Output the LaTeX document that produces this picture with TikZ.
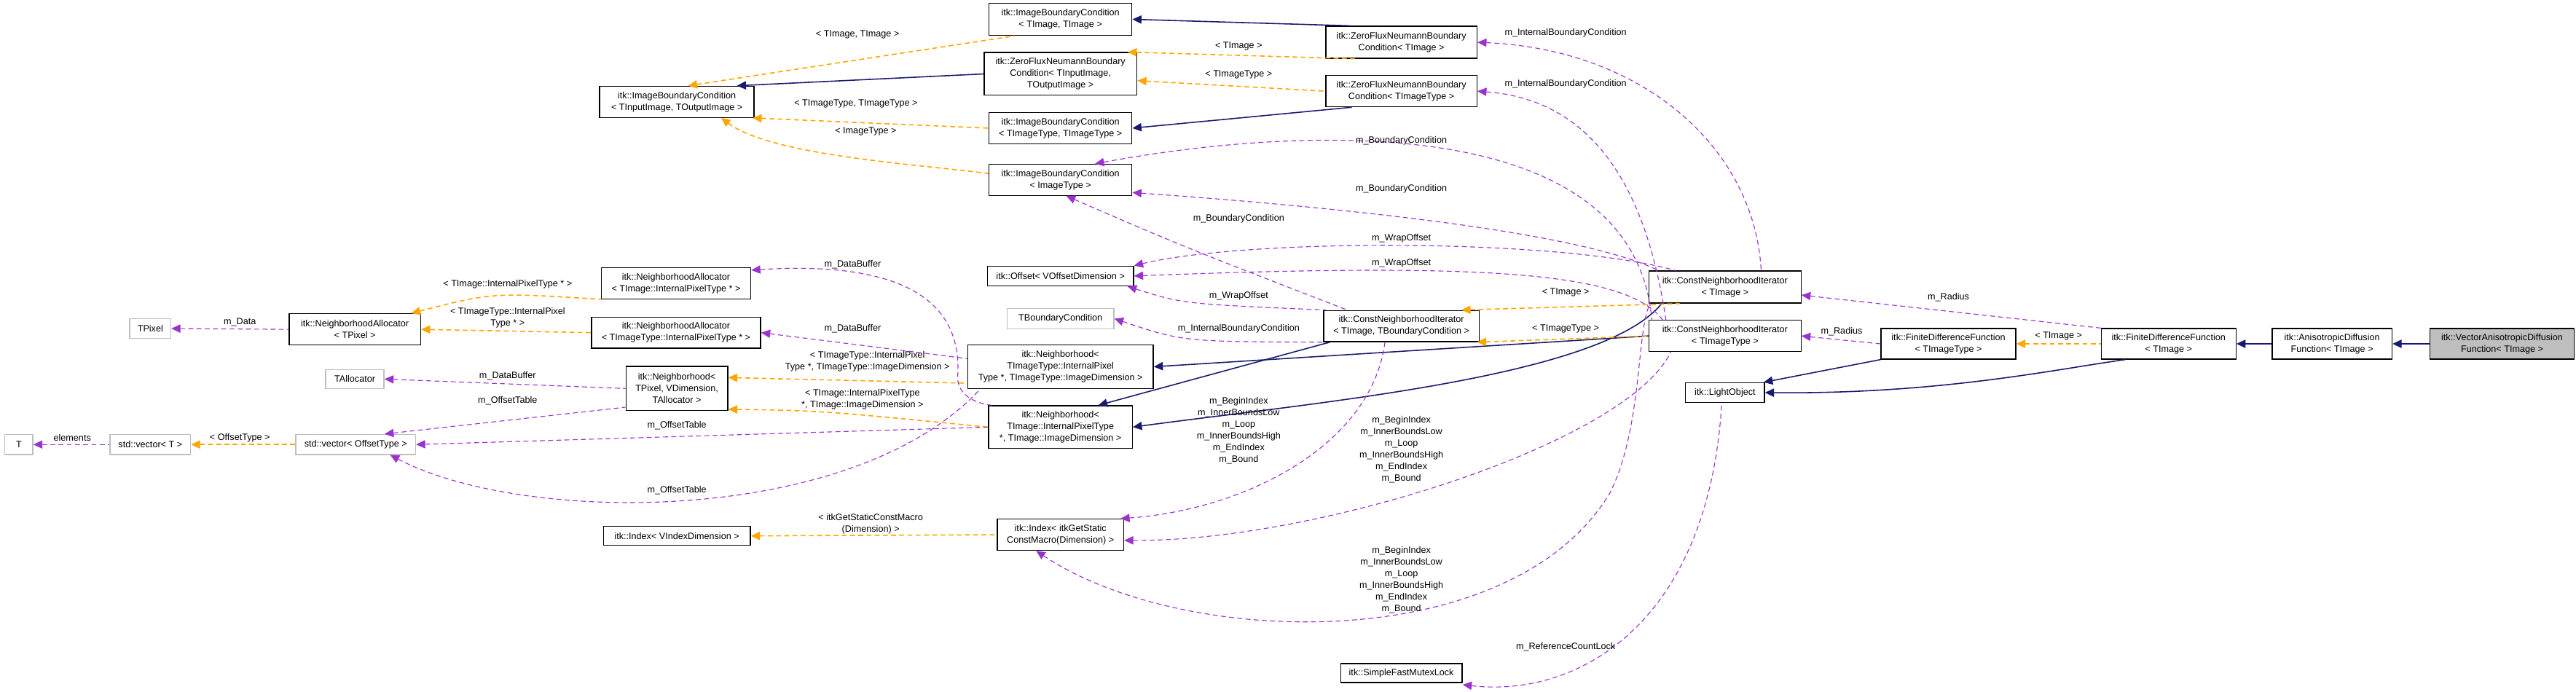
\documentclass[tikz,border=0pt]{standalone}
\usepackage{fontspec}
\setmainfont{Liberation Sans}
\usetikzlibrary{arrows.meta}
\definecolor{inhc}{HTML}{191970}
\definecolor{tplc}{HTML}{FFA500}
\definecolor{usec}{HTML}{9A32CD}
\definecolor{grey}{HTML}{BFBFBF}
\begin{document}
\begin{tikzpicture}[x=1pt,y=-1pt,
  font=\fontsize{5.6}{7.1}\selectfont,
  box/.style={draw=black,line width=0.6pt,fill=white,align=center,inner sep=1pt},
  ubox/.style={box,draw=grey},
  tip/.style={{Triangle[length=5.5pt,width=5pt]}-},
  inh/.style={tip,draw=inhc,line width=0.7pt},
  tpl/.style={tip,draw=tplc,line width=0.7pt,dash pattern=on 3pt off 2pt},
  use/.style={tip,draw=usec,line width=0.5pt,dash pattern=on 3pt off 2pt},
  lbl/.style={inner sep=0pt,align=center,fill=none}]
\useasboundingbox (0,0) rectangle (1568,421.26);
% nodes
\node[box,minimum width=94,minimum height=19] (IBCio) at (412,62) {itk::ImageBoundaryCondition\\< TInputImage, TOutputImage >};
\node[box,minimum width=87,minimum height=19.5] (IBCtt) at (645.5,11.75) {itk::ImageBoundaryCondition\\< TImage, TImage >};
\node[box,minimum width=93,minimum height=26] (ZFNio) at (645.5,45) {itk::ZeroFluxNeumannBoundary\\Condition< TInputImage,\\ TOutputImage >};
\node[box,minimum width=87,minimum height=19] (IBCtyty) at (645.5,78) {itk::ImageBoundaryCondition\\< TImageType, TImageType >};
\node[box,minimum width=87,minimum height=19] (IBCit) at (645.5,109.5) {itk::ImageBoundaryCondition\\< ImageType >};
\node[box,minimum width=89,minimum height=12] (Offset) at (645.5,168) {itk::Offset< VOffsetDimension >};
\node[ubox,minimum width=65,minimum height=12.3] (TBC) at (645.5,194) {TBoundaryCondition};
\node[box,minimum width=92,minimum height=19.5] (ZFNti) at (853,25.75) {itk::ZeroFluxNeumannBoundary\\Condition< TImage >};
\node[box,minimum width=92,minimum height=19] (ZFNtt) at (853,55.5) {itk::ZeroFluxNeumannBoundary\\Condition< TImageType >};
\node[box,minimum width=94.5,minimum height=19] (CNItbc) at (853,198.5) {itk::ConstNeighborhoodIterator\\< TImage, TBoundaryCondition >};
\node[box,minimum width=92.5,minimum height=19.5] (CNIti) at (1050,174.75) {itk::ConstNeighborhoodIterator\\< TImage >};
\node[box,minimum width=92.5,minimum height=19] (CNItt) at (1050,204.5) {itk::ConstNeighborhoodIterator\\< TImageType >};
\node[box,minimum width=113,minimum height=26.5] (NTIT) at (645.5,223.25) {itk::Neighborhood<\\ TImageType::InternalPixel\\Type *, TImageType::ImageDimension >};
\node[box,minimum width=87.5,minimum height=26] (NTI) at (645.5,260) {itk::Neighborhood<\\ TImage::InternalPixelType\\ *, TImage::ImageDimension >};
\node[box,minimum width=77,minimum height=19] (IndexG) at (645.5,325.5) {itk::Index< itkGetStatic\\ConstMacro(Dimension) >};
\node[box,minimum width=74,minimum height=11.5] (SFML) at (853,409.75) {itk::SimpleFastMutexLock};
\node[box,minimum width=48,minimum height=12] (LO) at (1050,239) {itk::LightObject};
\node[box,minimum width=82,minimum height=18.6] (FDFtt) at (1186,209.3) {itk::FiniteDifferenceFunction\\< TImageType >};
\node[box,minimum width=82,minimum height=18.6] (FDFti) at (1320,209.3) {itk::FiniteDifferenceFunction\\< TImage >};
\node[box,minimum width=73,minimum height=18.6] (ADF) at (1419.5,209.3) {itk::AnisotropicDiffusion\\Function< TImage >};
\node[box,fill=grey,minimum width=88,minimum height=18.6] (VADF) at (1523,209.3) {itk::VectorAnisotropicDiffusion\\Function< TImage >};
\node[box,minimum width=91,minimum height=19] (NAti) at (411.5,172.5) {itk::NeighborhoodAllocator\\< TImage::InternalPixelType * >};
\node[box,minimum width=80,minimum height=19] (NAtp) at (216,200.5) {itk::NeighborhoodAllocator\\< TPixel >};
\node[box,minimum width=103,minimum height=19] (NAtit) at (411.5,202.5) {itk::NeighborhoodAllocator\\< TImageType::InternalPixelType * >};
\node[ubox,minimum width=25,minimum height=12] (TPixel) at (91.5,200) {TPixel};
\node[ubox,minimum width=35.5,minimum height=11.5] (TAlloc) at (216,230.75) {TAllocator};
\node[box,minimum width=62,minimum height=27] (NTP) at (412,236.5) {itk::Neighborhood<\\ TPixel, VDimension,\\ TAllocator >};
\node[ubox,minimum width=17,minimum height=12.2] (T) at (11.5,270.6) {T};
\node[ubox,minimum width=49,minimum height=12.2] (VecT) at (91.5,270.6) {std::vector< T >};
\node[ubox,minimum width=73,minimum height=12.2] (VecO) at (216.5,270.6) {std::vector< OffsetType >};
\node[box,minimum width=89.5,minimum height=11.5] (IndexV) at (412,326.25) {itk::Index< VIndexDimension >};
% inheritance
\draw[inh] (IBCtt.east) -- (ZFNti.162);
\draw[inh] (IBCio.15) -- (ZFNio.west);
\draw[inh] (IBCtyty.east) -- (ZFNtt.198);
\draw[inh] (NTIT.east) -- (CNItt.west);
\draw[inh] (NTI.30) -- ([xshift=4pt]CNItbc.south west);
\draw[inh] (NTI.east) .. controls (800,245) and (975,230) .. ([xshift=8pt]CNIti.south west);
\draw[inh] (LO.15) -- (FDFtt.south west);
\draw[inh] (LO.east) .. controls (1180,240) and (1250,225) .. (FDFti.200);
\draw[inh] (FDFti.east) -- (ADF.west);
\draw[inh] (ADF.east) -- (VADF.west);
% template
\draw[tpl] (IBCio.55) -- (IBCtt.200);
\node[lbl] (t1) at (522,21) {< TImage, TImage >};
\draw[tpl] (IBCio.-12) -- (IBCtyty.west);
\node[lbl] (t2) at (521,63) {< TImageType, TImageType >};
\draw[tpl] ([xshift=27pt]IBCio.south) .. controls (470,95) and (560,100) .. (IBCit.175);
\node[lbl] (t3) at (527,80) {< ImageType >};
\draw[tpl] (ZFNio.18) -- (ZFNti.-160);
\node[lbl] (t4) at (754,28) {< TImage >};
\draw[tpl] (ZFNio.-5) -- (ZFNtt.west);
\node[lbl] (t5) at (754,45.5) {< TImageType >};
\draw[tpl] (CNItbc.15) -- (CNIti.-160);
\node[lbl] (t6) at (953,178) {< TImage >};
\draw[tpl] (CNItbc.-12) -- (CNItt.west);
\node[lbl] (t7) at (953,200) {< TImageType >};
\draw[tpl] ([xshift=-6pt]NAtp.north east) .. controls (300,178) .. (NAti.192);
\node[lbl] (t8) at (309,173) {< TImage::InternalPixelType * >};
\draw[tpl] (NAtp.east) -- (NAtit.west);
\node[lbl] (t9) at (309,193.5) {< TImageType::InternalPixel\\Type * >};
\draw[tpl] (NTP.12) -- (NTIT.-170);
\node[lbl] (t10) at (528,220) {< TImageType::InternalPixel\\Type *, TImageType::ImageDimension >};
\draw[tpl] (NTP.-22) .. controls (500,250) .. (NTI.west);
\node[lbl] (t11) at (525,243) {< TImage::InternalPixelType\\*, TImage::ImageDimension >};
\draw[tpl] (VecT.east) -- (VecO.west);
\node[lbl] (t12) at (146,266.5) {< OffsetType >};
\draw[tpl] (IndexV.east) -- (IndexG.west);
\node[lbl] (t13) at (530,319) {< itkGetStaticConstMacro\\(Dimension) >};
\draw[tpl] (FDFtt.east) -- (FDFti.west);
\node[lbl] (t14) at (1253,204.5) {< TImage >};
% usage
\draw[use] (TPixel.east) -- (NAtp.west);
\node[lbl] (u1) at (146,196) {m\_Data};
\draw[use] (T.east) -- (VecT.west);
\node[lbl] (u2) at (44,266.5) {elements};
\draw[use] (TAlloc.east) -- (NTP.west);
\node[lbl] (u3) at (309,229) {m\_DataBuffer};
\draw[use] (VecO.20) -- (NTP.-160);
\node[lbl] (u4) at (309,244) {m\_OffsetTable};
\draw[use] (VecO.east) -- (NTI.west);
\node[lbl] (u5) at (412,259) {m\_OffsetTable};
\draw[use] ([xshift=21pt]VecO.south) .. controls (320,320) and (520,320) .. ([xshift=8pt]NTIT.south west);
\node[lbl] (u6) at (412,298.5) {m\_OffsetTable};
\draw[use] (NAti.10) .. controls (560,158) and (585,190) .. (583,228) .. controls (582,238) and (590,245) .. ([xshift=2pt]NTI.north west);
\node[lbl] (u7) at (519,161) {m\_DataBuffer};
\draw[use] (NAtit.east) -- (NTIT.175);
\node[lbl] (u8) at (519,200) {m\_DataBuffer};
\draw[use] (IBCit.25) .. controls (800,75) and (995,70) .. ([xshift=2pt]CNItt.north west);
\node[lbl] (u9) at (853,85.5) {m\_BoundaryCondition};
\draw[use] (IBCit.-10) .. controls (800,125) and (960,140) .. ([xshift=6pt]CNIti.north west);
\node[lbl] (u10) at (853,115) {m\_BoundaryCondition};
\draw[use] (IBCit.-70) .. controls (720,150) .. ([xshift=-33pt]CNItbc.north);
\node[lbl] (u11) at (754,133) {m\_BoundaryCondition};
\draw[use] (ZFNti.east) .. controls (1000,30) and (1068,90) .. ([xshift=22pt]CNIti.north);
\node[lbl] (u12) at (953,20) {m\_InternalBoundaryCondition};
\draw[use] (ZFNtt.east) .. controls (960,60) and (1000,100) .. ([xshift=-36pt]CNItt.north);
\node[lbl] (u13) at (953,51) {m\_InternalBoundaryCondition};
\draw[use] (Offset.north east) .. controls (760,145) and (950,145) .. ([xshift=-30pt]CNIti.north);
\node[lbl] (u14) at (853,145) {m\_WrapOffset};
\draw[use] (Offset.east) .. controls (900,160) and (990,165) .. ([xshift=-38pt]CNItt.north);
\node[lbl] (u15) at (853,160) {m\_WrapOffset};
\draw[use] ([xshift=-4pt]Offset.south east) .. controls (720,185) .. (CNItbc.168);
\node[lbl] (u16) at (754,180) {m\_WrapOffset};
\draw[use] (TBC.east) .. controls (720,208) .. (CNItbc.-168);
\node[lbl] (u17) at (754,200) {m\_InternalBoundaryCondition};
\draw[use] (IndexG.15) .. controls (760,310) and (835,270) .. ([xshift=-10pt]CNItbc.south);
\node[lbl] (u18) at (754,262) {m\_BeginIndex\\m\_InnerBoundsLow\\m\_Loop\\m\_InnerBoundsHigh\\m\_EndIndex\\m\_Bound};
\draw[use] (IndexG.-5) .. controls (800,330) and (990,270) .. ([xshift=-33pt]CNItt.south);
\node[lbl] (u19) at (853,273.5) {m\_BeginIndex\\m\_InnerBoundsLow\\m\_Loop\\m\_InnerBoundsHigh\\m\_EndIndex\\m\_Bound};
\draw[use] ([xshift=24pt]IndexG.south west) .. controls (720,395) and (920,400) .. (980,300) .. controls (1000,260) and (996,200) .. ([xshift=1pt]CNIti.south west);
\node[lbl] (u20) at (853,353) {m\_BeginIndex\\m\_InnerBoundsLow\\m\_Loop\\m\_InnerBoundsHigh\\m\_EndIndex\\m\_Bound};
\draw[use] (CNIti.-6) -- (FDFti.north west);
\node[lbl] (u21) at (1186,181) {m\_Radius};
\draw[use] (CNItt.east) -- (FDFtt.west);
\node[lbl] (u22) at (1121,202) {m\_Radius};
\draw[use] ([yshift=-1pt]SFML.south east) .. controls (960,425) and (1040,380) .. ([xshift=-2pt]LO.south);
\node[lbl] (u23) at (953,394) {m\_ReferenceCountLock};
\end{tikzpicture}
\end{document}
